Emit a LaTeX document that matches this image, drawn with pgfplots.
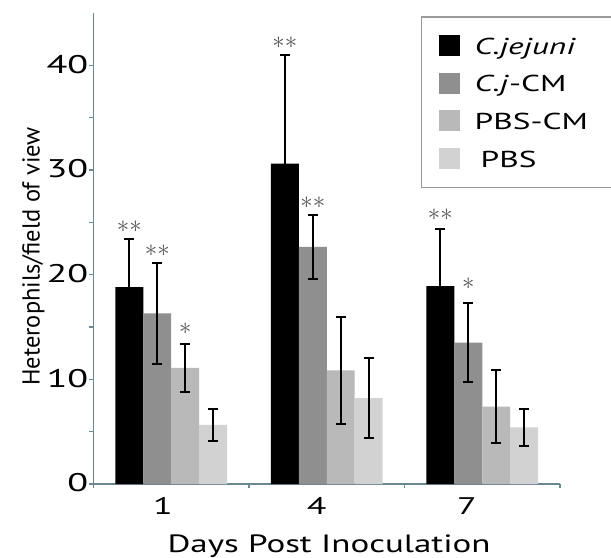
\documentclass[border=0pt]{standalone}
\usepackage{pgfplots}
\pgfplotsset{compat=1.18}
\usepackage{pgfplotstable}
\usepackage{fontspec}
\setmainfont{PT Sans}
\newfontfamily\tickfont{PT Sans}[FakeStretch=1.5]
\newfontfamily\labfont{PT Sans}[FakeStretch=1.40]
\newfontfamily\legfont{PT Sans}[FakeStretch=1.45]

\definecolor{axiscol}{HTML}{6B8790}
\definecolor{cjcm}{HTML}{8F8F8F}
\definecolor{pbscm}{HTML}{B9B9B9}
\definecolor{pbs}{HTML}{D2D2D2}
\definecolor{legframe}{HTML}{9A9A9A}
\definecolor{starcol}{HTML}{555555}

\tikzset{sigstar/.style={font=\fontsize{26bp}{28bp}\selectfont, text=starcol, anchor=base, inner sep=0pt, yshift=-6.5bp}}

% mean heterophil counts and error (days 1, 4, 7 at x = 1, 2, 3)
\pgfplotstableread{
x y err
1 18.8 4.6
2 30.6 10.4
3 18.9 5.5
}\cjejuni
\pgfplotstableread{
x y err
1 16.3 4.8
2 22.65 3.05
3 13.5 3.8
}\cjcm
\pgfplotstableread{
x y err
1 11.1 2.3
2 10.85 5.1
3 7.4 3.5
}\pbscm
\pgfplotstableread{
x y err
1 5.65 1.55
2 8.2 3.8
3 5.4 1.8
}\pbs

\begin{document}
\begin{tikzpicture}
\path[use as bounding box] (-93.5bp,-74bp) rectangle (517.5bp,484bp);
\begin{axis}[
  at={(0,0)}, anchor=south west,
  scale only axis, width=466.5bp, height=471bp,
  xmin=0.5, xmax=3.5, ymin=0, ymax=45,
  axis x line*=bottom, axis y line*=left,
  axis line style={draw=axiscol, line width=1.5bp},
  ybar, bar width=0.18,
  xtick={0.5,1.5,2.5,3.5}, xticklabels={},
  extra x ticks={0.947,1.935,2.902}, extra x tick labels={1,4,7},
  extra x tick style={major tick length=0pt},
  ytick={0,10,20,30,40}, minor ytick={5,15,25,35},
  tick align=outside, major tick length=4bp, minor tick length=4bp,
  tick style={draw=axiscol, line width=1.2bp},
  /pgf/number format/assume math mode=true,
  yticklabel style={font=\tickfont\fontsize{25.5bp}{27bp}\selectfont, anchor=east, inner sep=0pt, xshift=-1bp, yshift=1bp},
  xticklabel style={font=\tickfont\fontsize{24bp}{26bp}\selectfont, anchor=base, inner sep=0pt, yshift=-30bp},
  xlabel={Days Post Inoculation},
  xlabel style={font=\labfont\fontsize{25bp}{28bp}\selectfont, at={(axis description cs:0.505,-0.1444)}, anchor=base, inner sep=0pt},
  ylabel={Heterophils/field of view},
  ylabel style={font=\fontsize{24.5bp}{27bp}\selectfont, at={(axis description cs:-0.129,0.483)}, anchor=center, inner sep=0pt},
  error bars/y dir=both, error bars/y explicit,
  error bars/error mark=-,
  error bars/error bar style={line width=2bp, black},
  error bars/error mark options={rotate=90, line width=2bp, mark size=5bp, black},
  legend style={at={(0.702,0.9936)}, anchor=north west, draw=legframe, line width=1.5bp,
    fill=white, inner xsep=17bp, inner ysep=16.5bp, row sep=13.2bp,
    font=\legfont\fontsize{23bp}{26bp}\selectfont,
    cells={anchor=west, inner sep=0pt, text height=19bp, text depth=3bp},
    /tikz/every odd column/.append style={column sep=13bp},
    /tikz/every even column/.append style={text width=140bp}},
  legend image code/.code={\fill[#1,draw=none] (0bp,-10.5bp) rectangle (21bp,10.5bp);},
]
\addplot[fill=black, draw=none, bar shift=-0.27] table[x=x, y=y, y error=err] {\cjejuni};
\addplot[fill=cjcm, draw=none, bar shift=-0.09] table[x=x, y=y, y error=err] {\cjcm};
\addplot[fill=pbscm, draw=none, bar shift=0.09] table[x=x, y=y, y error=err] {\pbscm};
\addplot[fill=pbs, draw=none, bar shift=0.27] table[x=x, y=y, y error=err] {\pbs};
\legend{\textit{C.jejuni}, \textit{C.j}-CM, PBS-CM, \hspace{6bp}PBS}

% significance marks
\node[sigstar] at (axis cs:0.73,24.63) {${\ast}{\ast}$};
\node[sigstar] at (axis cs:0.91,22.34) {${\ast}{\ast}$};
\node[sigstar] at (axis cs:1.09,14.89) {$\ast$};
\node[sigstar] at (axis cs:1.73,42.23) {${\ast}{\ast}$};
\node[sigstar] at (axis cs:1.91,26.90) {${\ast}{\ast}$};
\node[sigstar] at (axis cs:2.73,25.84) {${\ast}{\ast}$};
\node[sigstar] at (axis cs:2.91,19.16) {$\ast$};
\end{axis}
\end{tikzpicture}
\end{document}
